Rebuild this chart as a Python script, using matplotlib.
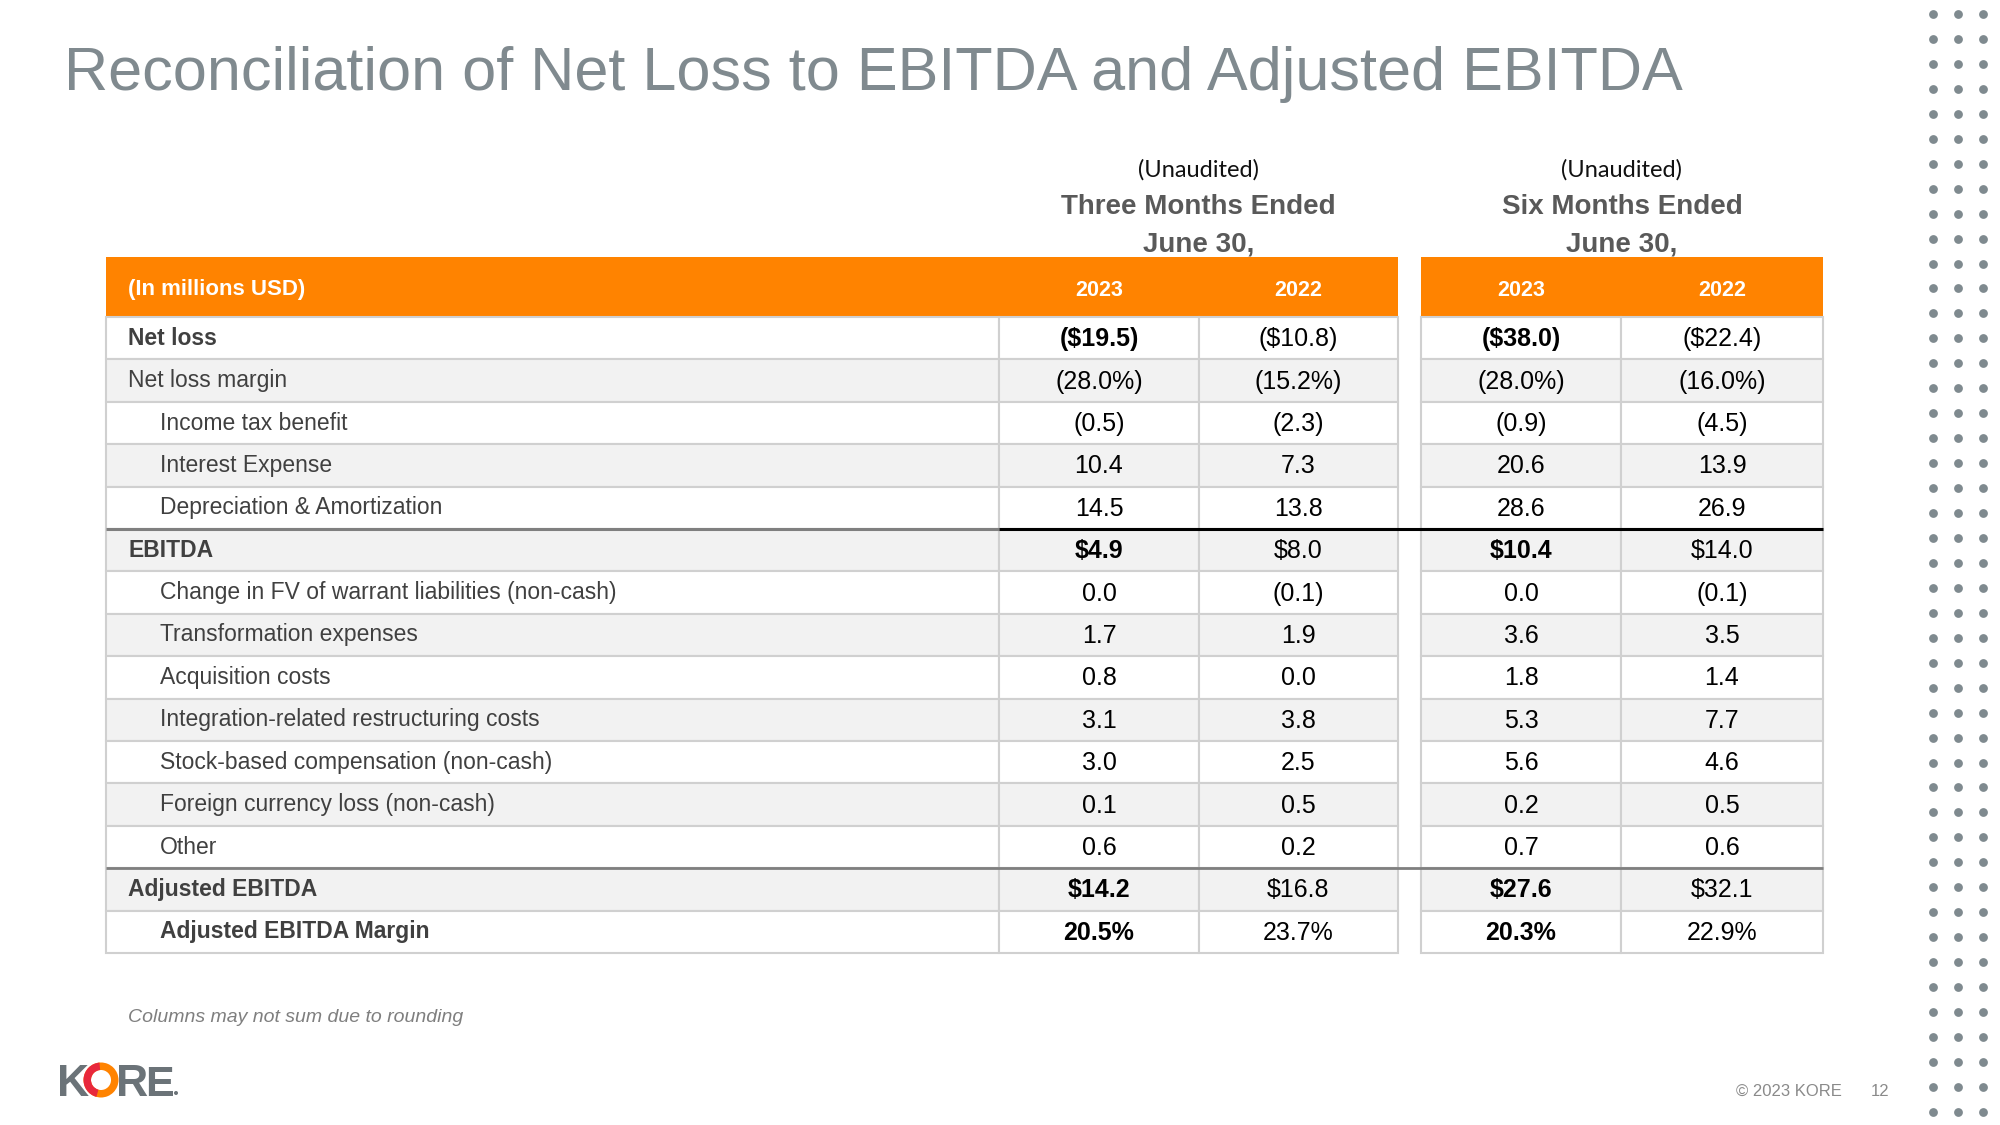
import matplotlib
matplotlib.use('Agg')
import matplotlib.pyplot as plt
from matplotlib.patches import Rectangle, Wedge, Circle
import numpy as np

plt.rcParams['font.family'] = ['Liberation Sans', 'DejaVu Sans']

# ---- data ----
labels = ['Net loss', 'Net loss margin', 'Income tax benefit', 'Interest Expense',
          'Depreciation & Amortization', 'EBITDA',
          'Change in FV of warrant liabilities (non-cash)', 'Transformation expenses',
          'Acquisition costs', 'Integration-related restructuring costs',
          'Stock-based compensation (non-cash)', 'Foreign currency loss (non-cash)',
          'Other', 'Adjusted EBITDA', 'Adjusted EBITDA Margin']
indented = [0, 0, 1, 1, 1, 0, 1, 1, 1, 1, 1, 1, 1, 0, 1]
bold_rows = [1, 0, 0, 0, 0, 1, 0, 0, 0, 0, 0, 0, 0, 1, 1]

three_2023 = ['($19.5)', '(28.0%)', '(0.5)', '10.4', '14.5', '$4.9', '0.0', '1.7',
              '0.8', '3.1', '3.0', '0.1', '0.6', '$14.2', '20.5%']
three_2022 = ['($10.8)', '(15.2%)', '(2.3)', '7.3', '13.8', '$8.0', '(0.1)', '1.9',
              '0.0', '3.8', '2.5', '0.5', '0.2', '$16.8', '23.7%']
six_2023 = ['($38.0)', '(28.0%)', '(0.9)', '20.6', '28.6', '$10.4', '0.0', '3.6',
            '1.8', '5.3', '5.6', '0.2', '0.7', '$27.6', '20.3%']
six_2022 = ['($22.4)', '(16.0%)', '(4.5)', '13.9', '26.9', '$14.0', '(0.1)', '3.5',
            '1.4', '7.7', '4.6', '0.5', '0.6', '$32.1', '22.9%']

years = ['2023', '2022']
periods = ['Three Months Ended\nJune 30,', 'Six Months Ended\nJune 30,']

# ---- layout (pixel coords) ----
ORANGE = '#FF8300'
GRID = '#d0d0d0'
SHADE = '#f2f2f2'
TITLE_C = '#808a8f'

fig = plt.figure(figsize=(20, 11.25), dpi=100)
ax = fig.add_axes([0, 0, 1, 1])
ax.set_xlim(0, 2000)
ax.set_ylim(1125, 0)
ax.axis('off')

ax.text(64, 90, 'Reconciliation of Net Loss to EBITDA and Adjusted EBITDA',
        fontsize=44, color=TITLE_C, va='baseline', ha='left')

x_left, x_lab = 106, 999
blocks = [(999, 1199, 1398), (1421, 1621, 1823)]
head_top, head_bot = 257, 317
row_h = (953 - 317) / len(labels)

# header boxes
ax.add_patch(Rectangle((x_left, head_top), blocks[0][2] - x_left, head_bot - head_top,
                       color=ORANGE, lw=0))
ax.add_patch(Rectangle((blocks[1][0], head_top), blocks[1][2] - blocks[1][0],
                       head_bot - head_top, color=ORANGE, lw=0))
hy = (head_top + head_bot) / 2 + 3
ax.text(128, hy, '(In millions USD)', color='white', fontsize=16, fontweight='bold',
        va='center', ha='left')
for (a, b, c), per in zip(blocks, periods):
    ax.text((a + b) / 2, hy, years[0], color='white', fontsize=15.5, fontweight='bold',
            va='center', ha='center')
    ax.text((b + c) / 2, hy, years[1], color='white', fontsize=15.5, fontweight='bold',
            va='center', ha='center')
    cx = (a + c) / 2
    ax.text(cx, 170, '(Unaudited)', color='#111111', fontsize=17, family=['Lato', 'DejaVu Sans'],
            va='center', ha='center')
    l1, l2 = per.split('\n')
    ax.text(cx, 207, l1, color='#595959', fontsize=20, fontweight='bold', va='center', ha='center')
    ax.text(cx, 244, l2, color='#595959', fontsize=20, fontweight='bold', va='center', ha='center')

# rows
cols = [three_2023, three_2022, six_2023, six_2022]
col_centers = [(999 + 1199) / 2, (1199 + 1398) / 2, (1421 + 1621) / 2, (1621 + 1823) / 2]
for i, lab in enumerate(labels):
    top = head_bot + i * row_h
    yc = top + row_h / 2
    fc = SHADE if i % 2 == 1 else 'white'
    ax.add_patch(Rectangle((x_left, top), x_lab - x_left, row_h, facecolor=fc,
                           edgecolor=GRID, lw=1.5))
    for a, b, c in blocks:
        ax.add_patch(Rectangle((a, top), b - a, row_h, facecolor=fc, edgecolor=GRID, lw=1.5))
        ax.add_patch(Rectangle((b, top), c - b, row_h, facecolor=fc, edgecolor=GRID, lw=1.5))
    xl = 160 if indented[i] else 128
    ax.text(xl, yc, lab, color='#404040', fontsize=16.5,
            fontweight='bold' if bold_rows[i] else 'normal', va='center', ha='left')
    for j, (col, xc) in enumerate(zip(cols, col_centers)):
        bw = 'bold' if (bold_rows[i] and j % 2 == 0) else 'normal'
        ax.text(xc, yc + 1, col[i], color='black', fontsize=18, fontweight=bw,
                va='center', ha='center')

# separator lines
y_ebitda = head_bot + 5 * row_h
ax.plot([x_left, x_lab], [y_ebitda, y_ebitda], color='#7f7f7f', lw=2.2, solid_capstyle='butt')
ax.plot([x_lab, blocks[1][2]], [y_ebitda, y_ebitda], color='black', lw=2.2, solid_capstyle='butt')
y_adj = head_bot + 13 * row_h
ax.plot([x_left, blocks[1][2]], [y_adj, y_adj], color='#7f7f7f', lw=2, solid_capstyle='butt')

# footnote and footer
ax.text(128, 1017, 'Columns may not sum due to rounding', color='#7f7f7f', fontsize=14,
        style='italic', va='center', ha='left')
ax.text(1842, 1091, '\u00a9 2023 KORE', color='#8a8a8a', fontsize=12, va='center', ha='right')
ax.text(1880, 1091, '12', color='#8a8a8a', fontsize=12, va='center', ha='center')

# logo
LOGO = '#6b7378'
ax.text(57, 1096, 'K', color=LOGO, fontsize=32, fontweight='bold', va='baseline', ha='left')
ax.add_patch(Wedge((101, 1080), 17.5, 0, 360, width=7.5, color='#FF8300', lw=0))
ax.add_patch(Wedge((101, 1080), 17.5, 105, 265, width=7.5, color='#E8283C', lw=0))
ax.text(116, 1096, 'R', color=LOGO, fontsize=32, fontweight='bold', va='baseline', ha='left')
ax.text(145, 1096, 'E', color=LOGO, fontsize=31, fontweight='bold', va='baseline', ha='left')
ax.add_patch(Circle((176, 1093), 2, color=LOGO, lw=0))

# dot pattern on the right edge
dx, dy = np.meshgrid([1933, 1958, 1983], np.arange(14, 1120, 24.95))
ax.scatter(dx.ravel(), dy.ravel(), s=40, color='#7f8a8f', lw=0)

fig.savefig('out.png', dpi=100)
